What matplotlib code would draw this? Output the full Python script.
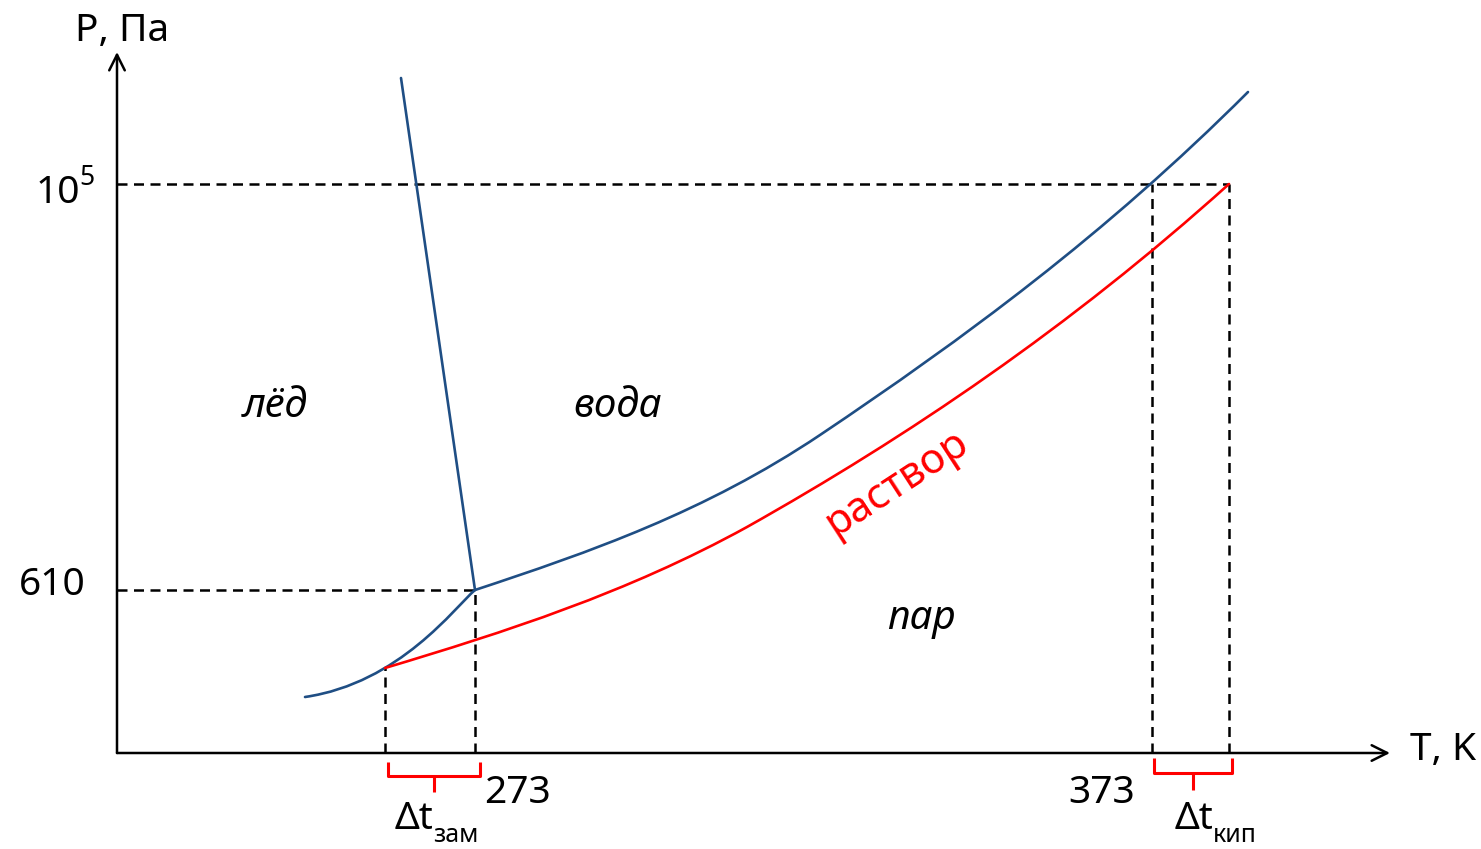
import matplotlib
matplotlib.use("Agg")
import matplotlib.pyplot as plt
from matplotlib.path import Path
from matplotlib.patches import PathPatch

plt.rcParams['font.family'] = ['Noto Sans', 'DejaVu Sans']

# Schematic phase diagram of water (arbitrary units: T to the right, P up; origin at the axes)
# Each curve: anchor / Bezier control points (T, P) and the matching Path codes.
subl_T = [188, 283, 338, 358]
subl_P = [56, 70, 146, 163]
subl_codes = [Path.MOVETO, Path.CURVE4, Path.CURVE4, Path.CURVE4]

melt_T = [284, 358]
melt_P = [675, 163]

vap_T = [358, 473, 588, 703, 846, 988, 1131]
vap_P = [163, 201, 241, 318, 414, 518, 661]
vap_codes = [Path.MOVETO] + [Path.CURVE4] * 6

sol_T = [268, 388, 510, 630, 790, 952, 1112]
sol_P = [85, 121, 160, 226, 316, 425, 569]
sol_codes = [Path.MOVETO] + [Path.CURVE4] * 6

triple = (358, 163)
sol_freeze = (268, 85)
boil = (1035, 569)
sol_boil = (1112, 569)

BLUE = '#1F4E84'
RED = '#FF0000'

fig = plt.figure(figsize=(14.81, 8.49), dpi=100)
ax = fig.add_axes([0, 0, 1, 1])
ax.set_xlim(-117, 1364)
ax.set_ylim(-96, 753)
ax.axis('off')

# dashed guide lines
dash = dict(color='black', lw=1.8, ls=(0, (4, 2.6)), zorder=1)
ax.plot([0, sol_boil[0]], [boil[1], boil[1]], **dash)
ax.plot([0, triple[0]], [triple[1], triple[1]], **dash)
for t, p in [sol_freeze, triple, boil, sol_boil]:
    ax.plot([t, t], [0, p], **dash)

# curves
def curve(T, P, codes, color):
    path = Path(list(zip(T, P)), codes)
    ax.add_patch(PathPatch(path, fill=False, edgecolor=color, lw=1.9,
                           capstyle='round', zorder=3))

curve(subl_T, subl_P, subl_codes, BLUE)
curve(vap_T, vap_P, vap_codes, BLUE)
curve(sol_T, sol_P, sol_codes, RED)
ax.plot(melt_T, melt_P, color=BLUE, lw=1.9, zorder=3, solid_capstyle='round')

# axes arrows
arr = dict(arrowstyle='->', color='black', lw=1.8, mutation_scale=28, shrinkA=0, shrinkB=0)
ax.annotate('', xy=(1273, 0), xytext=(0, 0), arrowprops=arr)
ax.annotate('', xy=(0, 701), xytext=(0, 0), arrowprops=arr)

# braces
def brace(x0, x1, ytop, yh, ytip):
    xm = (x0 + x1) / 2
    ax.plot([x0, x0, xm, xm], [ytop, yh, yh, ytip], color=RED, lw=2.2,
            solid_joinstyle='round', solid_capstyle='butt')
    ax.plot([x1, x1, xm], [ytop, yh, yh], color=RED, lw=2.2,
            solid_joinstyle='round', solid_capstyle='butt')

brace(271, 363, -9, -23, -39)
brace(1037, 1115, -5, -20, -37)

FS = 28
ax.text(5, 722, 'P, Па', fontsize=FS, ha='center', va='center')
ax.text(-37, 560, '10', fontsize=FS, ha='right', va='center')
ax.text(-38, 575, '5', fontsize=19, ha='left', va='center')
ax.text(-65, 168, '610', fontsize=FS, ha='center', va='center')
ax.text(400, -40, '273', fontsize=FS, ha='center', va='center')
ax.text(985, -40, '373', fontsize=FS, ha='center', va='center')
ax.text(1326, 3, 'T, K', fontsize=FS, ha='center', va='center')

ax.text(316, -66, 'Δt', fontsize=FS, ha='right', va='center')
ax.text(316, -82, 'зам', fontsize=18, ha='left', va='center')
ax.text(1096, -66, 'Δt', fontsize=FS, ha='right', va='center')
ax.text(1096, -82, 'кип', fontsize=18, ha='left', va='center')

ax.text(158, 346, 'лёд', fontsize=29, style='italic', ha='center', va='center')
ax.text(501, 346, 'вода', fontsize=29, style='italic', ha='center', va='center')
ax.text(804, 134, 'пар', fontsize=29, style='italic', ha='center', va='center')
ax.text(780, 270, 'раствор', fontsize=30, color=RED, rotation=33,
        rotation_mode='anchor', ha='center', va='center')

fig.savefig('out.png', dpi=100)
